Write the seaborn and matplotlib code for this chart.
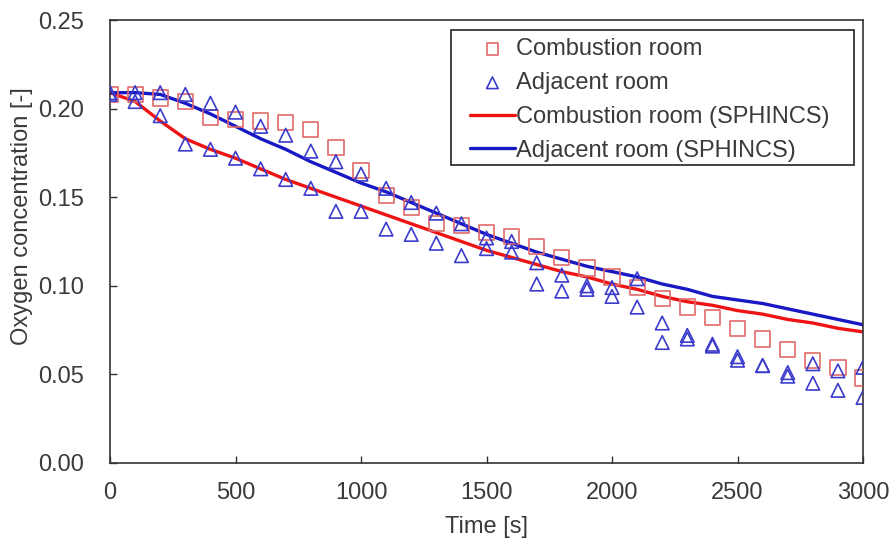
"""Oxygen concentration in combustion / adjacent room: experiment vs SPHINCS."""
import matplotlib
matplotlib.use("Agg")
import matplotlib.pyplot as plt
import numpy as np
import pandas as pd
import seaborn as sns
from matplotlib.patches import Rectangle

# measurement times (s), every 100 s
time_s = list(range(0, 3100, 100))

# experiment: combustion room (squares)
combustion_exp = [0.208, 0.208, 0.206, 0.204, 0.195, 0.194, 0.193, 0.192, 0.188, 0.178,
                  0.165, 0.151, 0.144, 0.135, 0.134, 0.130, 0.128, 0.122, 0.116, 0.110,
                  0.105, 0.099, 0.093, 0.088, 0.082, 0.076, 0.070, 0.064, 0.058, 0.054,
                  0.048]

# experiment: adjacent room, two sensors (triangles)
adjacent_exp_a = [0.209, 0.209, 0.209, 0.208, 0.203, 0.198, 0.190, 0.185, 0.176, 0.170,
                  0.163, 0.155, 0.147, 0.141, 0.135, 0.127, 0.125, 0.113, 0.106, 0.100,
                  0.099, 0.104, 0.079, 0.072, 0.067, 0.060, 0.055, 0.051, 0.056, 0.052,
                  0.054]
adjacent_exp_b = [0.208, 0.204, 0.196, 0.180, 0.177, 0.172, 0.166, 0.160, 0.155, 0.142,
                  0.142, 0.132, 0.129, 0.124, 0.117, 0.121, 0.119, 0.101, 0.097, 0.098,
                  0.094, 0.088, 0.068, 0.070, 0.066, 0.058, 0.055, 0.049, 0.045, 0.041,
                  0.037]

# SPHINCS simulation
combustion_sim = [0.209, 0.204, 0.193, 0.183, 0.177, 0.172, 0.166, 0.160, 0.155, 0.150,
                  0.145, 0.140, 0.135, 0.130, 0.125, 0.120, 0.116, 0.112, 0.108, 0.105,
                  0.101, 0.098, 0.094, 0.091, 0.089, 0.086, 0.084, 0.081, 0.079, 0.076,
                  0.074]
adjacent_sim = [0.209, 0.209, 0.208, 0.203, 0.197, 0.190, 0.183, 0.177, 0.170, 0.164,
                0.158, 0.153, 0.147, 0.141, 0.135, 0.129, 0.124, 0.119, 0.115, 0.111,
                0.108, 0.105, 0.101, 0.098, 0.094, 0.092, 0.090, 0.087, 0.084, 0.081,
                0.078]

exp_comb = pd.DataFrame({"time": time_s, "o2": combustion_exp})
exp_adj = pd.DataFrame({"time": time_s * 2, "o2": adjacent_exp_a + adjacent_exp_b})
sim = pd.DataFrame({"time": time_s, "comb": combustion_sim, "adj": adjacent_sim})

sns.set_theme(style="ticks")
plt.rcParams["font.family"] = ["Liberation Sans", "DejaVu Sans"]
FS = 17
TXT = "#3a3a3a"

fig = plt.figure(figsize=(8.96, 5.45), dpi=100)
ax = fig.add_axes([0.1228, 0.1505, 0.8404, 0.8128])

sns.scatterplot(data=exp_comb, x="time", y="o2", ax=ax, marker="s", s=120,
                facecolor="none", edgecolor="#e06a6a", linewidth=1.2,
                label="Combustion room", zorder=3)
sns.scatterplot(data=exp_adj, x="time", y="o2", ax=ax, marker="^", s=95,
                facecolor="none", edgecolor="#3b3bcc", linewidth=1.2,
                label="Adjacent room", zorder=4)
sns.lineplot(data=sim, x="time", y="comb", ax=ax, color="#ee1414", lw=2.4,
             label="Combustion room (SPHINCS)", zorder=2)
sns.lineplot(data=sim, x="time", y="adj", ax=ax, color="#1818c4", lw=2.4,
             label="Adjacent room (SPHINCS)", zorder=2)

ax.set_xlim(0, 3000)
ax.set_ylim(0, 0.25)
ax.set_xticks(np.arange(0, 3001, 500))
ax.set_yticks(np.arange(0, 0.251, 0.05))
ax.yaxis.set_major_formatter(matplotlib.ticker.FormatStrFormatter("%.2f"))
ax.tick_params(direction="in", length=5, width=1, colors="#333333",
               labelcolor=TXT, labelsize=FS)
ax.tick_params(axis="x", pad=14)
ax.tick_params(axis="y", pad=19)
for sp in ax.spines.values():
    sp.set_color("#333333")
    sp.set_linewidth(1.2)

ax.set_xlabel("Time [s]", fontsize=FS, color=TXT, labelpad=8)
ax.set_ylabel("Oxygen concentration [-]", fontsize=FS, color=TXT)
ax.yaxis.set_label_coords(-0.102, 0.557)

# legend without its own frame; the box is drawn separately
leg = ax.legend(loc="upper left", bbox_to_anchor=(0.478, 0.959), fontsize=FS,
                frameon=False, handlelength=1.9, handletextpad=0.05,
                labelspacing=0.5, borderpad=0, borderaxespad=0, scatterpoints=1)
for t in leg.get_texts():
    t.set_color(TXT)
for h in leg.legend_handles[:2]:
    h.set_sizes([70])
ax.add_patch(Rectangle((0.4529, 0.6727), 0.5351, 0.3047, transform=ax.transAxes,
                       fill=False, edgecolor="#222222", lw=1.2, zorder=5))

fig.savefig("out.png", dpi=100)
